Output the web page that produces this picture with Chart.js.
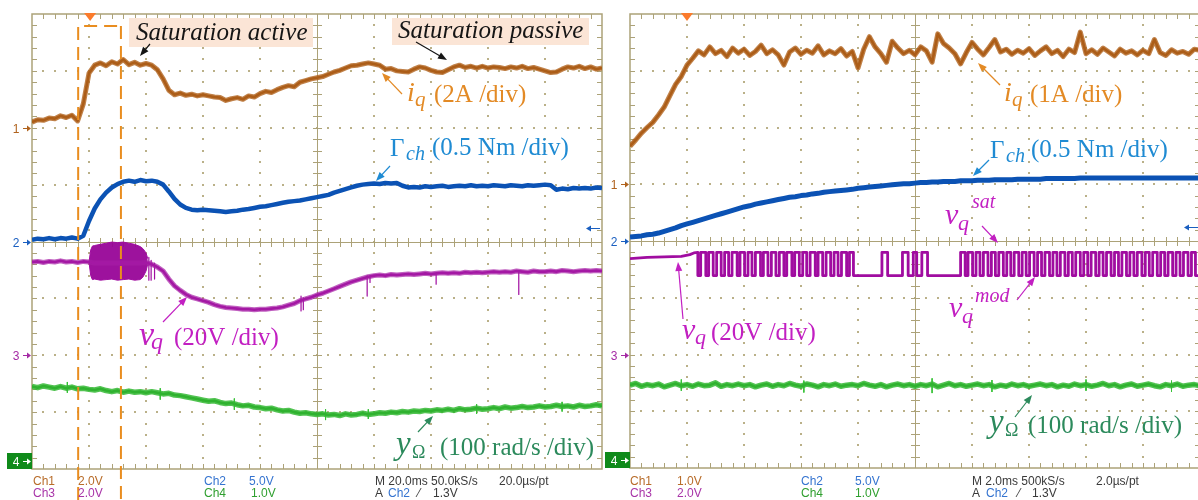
<!DOCTYPE html>
<html>
<head>
<meta charset="utf-8">
<title>Saturation active / passive</title>
<script src="https://cdn.jsdelivr.net/npm/chart.js@4.4.1/dist/chart.umd.min.js"></script>
<style>
  html, body { margin: 0; padding: 0; background: #fff; overflow: hidden; }
  #wrap { position: relative; width: 1198px; height: 500px; overflow: hidden; }
  canvas { position: absolute; top: 0; }
  #g_left { left: 0; }
  #g_right { left: 605px; }
</style>
</head>
<body>
<div id="wrap">
  <canvas id="g_left" width="605" height="500"></canvas>
  <canvas id="g_right" width="600" height="500"></canvas>
</div>
<script>
// sample positions, in screen divisions (10 x 8 graticule, y = 0 at centre)
var t_div = [
  0,0.1,0.2,0.3,0.4,0.5,0.6,0.7,0.8,0.9,
  1,1.1,1.2,1.3,1.4,1.5,1.6,1.7,1.8,1.9,
  2,2.1,2.2,2.3,2.4,2.5,2.6,2.7,2.8,2.9,
  3,3.1,3.2,3.3,3.4,3.5,3.6,3.7,3.8,3.9,
  4,4.1,4.2,4.3,4.4,4.5,4.6,4.7,4.8,4.9,
  5,5.1,5.2,5.3,5.4,5.5,5.6,5.7,5.8,5.9,
  6,6.1,6.2,6.3,6.4,6.5,6.6,6.7,6.8,6.9,
  7,7.1,7.2,7.3,7.4,7.5,7.6,7.7,7.8,7.9,
  8,8.1,8.2,8.3,8.4,8.5,8.6,8.7,8.8,8.9,
  9,9.1,9.2,9.3,9.4,9.5,9.6,9.7,9.8,9.9,
  10
];

// ---- left scope (20 ms/div) ----
var iq_left = [
  2.10,2.14,2.13,2.17,2.16,2.21,2.18,2.22,2.12,2.42,
  2.96,3.10,3.14,3.09,3.16,3.12,3.20,3.11,3.15,3.10,
  3.13,3.10,3.02,2.86,2.66,2.58,2.61,2.57,2.59,2.56,
  2.58,2.56,2.54,2.53,2.48,2.51,2.53,2.50,2.56,2.54,
  2.60,2.64,2.62,2.67,2.71,2.74,2.72,2.80,2.83,2.86,
  2.88,2.90,2.94,2.98,3.01,3.05,3.09,3.10,3.12,3.14,
  3.12,3.10,3.03,3.04,3.00,2.99,2.98,3.03,3.07,3.05,
  3.01,2.98,2.97,3.02,3.07,3.10,3.06,3.08,3.05,3.08,
  3.05,3.07,3.06,3.04,3.07,3.05,3.08,3.04,3.06,3.03,
  3.00,2.97,2.98,3.03,3.07,3.05,3.08,3.04,3.07,3.03,
  3.05
];
var torque_left = [
  0.03,0.05,0.04,0.06,0.04,0.06,0.05,0.07,0.05,0.10,
  0.36,0.58,0.74,0.86,0.95,1.01,1.05,1.07,1.05,1.08,
  1.06,1.07,1.05,1.00,0.88,0.75,0.65,0.59,0.56,0.55,
  0.56,0.55,0.54,0.53,0.52,0.53,0.54,0.56,0.57,0.59,
  0.61,0.62,0.64,0.66,0.68,0.70,0.71,0.72,0.74,0.76,
  0.78,0.80,0.82,0.86,0.89,0.92,0.95,0.98,1.00,1.01,
  1.02,1.01,1.03,1.02,1.03,0.98,0.95,0.96,0.95,0.97,
  0.96,0.97,0.98,0.96,0.97,0.98,0.97,0.99,0.97,0.98,
  0.97,0.99,0.98,0.97,0.99,0.98,0.97,0.99,0.98,0.99,
  1.00,0.99,0.91,0.93,0.92,0.94,0.93,0.94,0.93,0.95,
  0.94
];
var vq_left = [
  -0.36,-0.35,-0.37,-0.35,-0.36,-0.34,-0.36,-0.35,-0.37,-0.35,
  -0.36,-0.38,-0.38,-0.38,-0.38,-0.38,-0.38,-0.38,-0.38,-0.38,
  -0.37,-0.40,-0.45,-0.52,-0.66,-0.78,-0.86,-0.93,-0.98,-1.01,
  -1.04,-1.07,-1.11,-1.14,-1.16,-1.17,-1.18,-1.19,-1.19,-1.20,
  -1.19,-1.19,-1.18,-1.17,-1.15,-1.12,-1.09,-1.04,-1.01,-0.98,
  -0.94,-0.91,-0.87,-0.83,-0.79,-0.75,-0.71,-0.68,-0.65,-0.62,
  -0.60,-0.59,-0.60,-0.58,-0.59,-0.58,-0.57,-0.58,-0.57,-0.56,
  -0.57,-0.56,-0.55,-0.56,-0.55,-0.56,-0.54,-0.55,-0.54,-0.55,
  -0.54,-0.53,-0.54,-0.53,-0.54,-0.52,-0.53,-0.54,-0.52,-0.53,
  -0.53,-0.52,-0.53,-0.51,-0.52,-0.53,-0.52,-0.51,-0.52,-0.51,
  -0.52
];
// switching band while the saturation is active
var vq_band_t = [1.00,1.03,1.06,1.10,1.20,1.30,1.40,1.50,1.60,1.70,1.80,1.90,1.95,2.00,2.03];
var vq_band_top = [-0.36,-0.15,-0.08,-0.07,-0.05,-0.03,-0.01,-0.02,-0.01,-0.03,-0.05,-0.09,-0.13,-0.20,-0.30];
var vq_band_bottom = [-0.36,-0.60,-0.67,-0.66,-0.68,-0.67,-0.66,-0.68,-0.67,-0.66,-0.68,-0.67,-0.62,-0.52,-0.40];
var vq_left_spikes = [[2.05,-0.28,-0.68],[2.09,-0.33,-0.68],[2.15,-0.38,-0.66],[4.72,-0.96,-1.22],[4.76,-0.99,-1.20],
                      [5.88,-0.60,-0.96],[5.93,-0.61,-0.72],[7.09,-0.57,-0.75],[8.54,-0.52,-0.93]];
var speed_left = [
  -2.55,-2.57,-2.54,-2.56,-2.58,-2.55,-2.58,-2.56,-2.59,-2.58,
  -2.60,-2.61,-2.59,-2.62,-2.64,-2.62,-2.65,-2.63,-2.65,-2.64,
  -2.66,-2.64,-2.66,-2.68,-2.67,-2.70,-2.71,-2.73,-2.75,-2.77,
  -2.79,-2.81,-2.80,-2.83,-2.85,-2.84,-2.87,-2.89,-2.88,-2.91,
  -2.92,-2.94,-2.93,-2.96,-2.98,-2.97,-3.00,-3.02,-3.01,-3.03,
  -3.04,-3.03,-3.05,-3.04,-3.06,-3.03,-3.05,-3.04,-3.02,-3.04,
  -3.03,-3.01,-3.02,-3.00,-3.01,-2.99,-3.00,-2.98,-2.99,-2.97,
  -2.98,-2.96,-2.97,-2.95,-2.97,-2.94,-2.96,-2.95,-2.93,-2.95,
  -2.94,-2.92,-2.94,-2.91,-2.93,-2.92,-2.90,-2.92,-2.91,-2.89,
  -2.91,-2.90,-2.88,-2.90,-2.89,-2.91,-2.88,-2.90,-2.89,-2.87,
  -2.89
];
var speed_left_spikes = [[0.62,-2.47,-2.66],[2.25,-2.58,-2.78],[3.55,-2.76,-2.96],[5.15,-2.95,-3.14],[5.9,-2.95,-3.12],[7.8,-2.86,-3.03],[9.3,-2.82,-2.99]];

// ---- right scope (2 ms/div) ----
var iq_right = [
  1.67,1.78,1.90,2.00,2.09,2.22,2.36,2.56,2.76,2.90,
  3.10,3.22,3.35,3.28,3.42,3.30,3.36,3.25,3.40,3.31,
  3.38,3.27,3.34,3.45,3.30,3.37,3.28,3.10,3.33,3.40,
  3.29,3.36,3.31,3.44,3.28,3.35,3.30,3.39,3.26,3.34,
  3.05,3.38,3.60,3.42,3.30,3.15,3.52,3.40,3.30,3.36,
  3.28,3.42,3.35,3.15,3.65,3.48,3.40,3.30,3.12,3.32,
  3.50,3.38,3.28,3.41,3.55,3.33,3.38,3.29,3.36,3.31,
  3.39,3.27,3.35,3.42,3.30,3.36,3.25,3.38,3.32,3.68,
  3.30,3.37,3.29,3.40,3.33,3.26,3.38,3.31,3.35,3.28,
  3.36,3.30,3.55,3.32,3.27,3.37,3.31,3.34,3.29,3.38,
  3.36
];
var torque_right = [
  0.07,0.08,0.09,0.11,0.12,0.14,0.17,0.20,0.23,0.27,
  0.30,0.33,0.36,0.39,0.42,0.45,0.48,0.51,0.54,0.57,
  0.60,0.62,0.65,0.67,0.69,0.71,0.73,0.75,0.77,0.78,
  0.80,0.81,0.83,0.84,0.86,0.87,0.88,0.89,0.90,0.91,
  0.93,0.94,0.95,0.96,0.97,0.98,0.99,1.00,1.01,1.01,
  1.02,1.03,1.03,1.04,1.04,1.05,1.05,1.05,1.06,1.06,
  1.06,1.07,1.07,1.07,1.08,1.08,1.08,1.08,1.09,1.09,
  1.09,1.09,1.09,1.10,1.10,1.10,1.10,1.10,1.10,1.11,
  1.11,1.11,1.11,1.11,1.11,1.11,1.11,1.11,1.11,1.11,
  1.11,1.11,1.11,1.11,1.11,1.11,1.11,1.11,1.11,1.11,
  1.11
];
// vq before the modulation starts, then the vq_mod / vq_sat pulses
var vq_right_t = [0, 0.3, 0.6, 0.9, 1.05, 1.12, 1.19, 1.19];
var vq_right_v = [-0.31, -0.29, -0.28, -0.27, -0.24, -0.21, -0.20, -0.61];
var vq_levels = [-0.61, -0.20];   // low, high
var vq_pulses = [
  [1.24,1.33],[1.38,1.46],[1.52,1.60],[1.66,1.73],[1.79,1.88],[1.93,2.01],[2.07,2.14],[2.20,2.29],[2.34,2.42],[2.48,2.56],
  [2.62,2.70],[2.75,2.84],[2.89,2.97],[3.03,3.10],[3.16,3.25],[3.30,3.38],[3.44,3.52],[3.58,3.65],[3.71,3.80],[3.85,3.92],
  [4.42,4.52],[4.78,4.88],[4.97,5.03],[5.12,5.22],
  [5.80,5.88],[5.93,6.01],[6.07,6.14],[6.20,6.28],[6.34,6.41],[6.47,6.55],[6.61,6.68],[6.74,6.82],[6.88,6.95],[7.01,7.09],
  [7.15,7.22],[7.28,7.36],[7.42,7.49],[7.55,7.63],[7.69,7.76],[7.82,7.90],[7.96,8.03],[8.09,8.17],[8.23,8.30],[8.36,8.44],
  [8.50,8.57],[8.63,8.71],[8.77,8.84],[8.90,8.98],[9.04,9.11],[9.17,9.25],[9.31,9.38],[9.44,9.52],[9.58,9.65],[9.71,9.79],
  [9.85,9.92]
];
var speed_right = [
  -2.54,-2.51,-2.56,-2.53,-2.55,-2.52,-2.57,-2.54,-2.51,-2.55,
  -2.53,-2.56,-2.52,-2.55,-2.54,-2.50,-2.56,-2.53,-2.55,-2.52,
  -2.55,-2.53,-2.57,-2.54,-2.52,-2.56,-2.53,-2.55,-2.51,-2.54,
  -2.56,-2.52,-2.54,-2.57,-2.53,-2.55,-2.52,-2.56,-2.54,-2.53,
  -2.55,-2.51,-2.54,-2.56,-2.53,-2.57,-2.54,-2.52,-2.55,-2.53,
  -2.56,-2.53,-2.55,-2.52,-2.57,-2.54,-2.51,-2.55,-2.53,-2.56,
  -2.54,-2.52,-2.55,-2.53,-2.57,-2.54,-2.56,-2.52,-2.55,-2.53,
  -2.56,-2.54,-2.52,-2.55,-2.53,-2.57,-2.54,-2.56,-2.52,-2.55,
  -2.53,-2.56,-2.54,-2.51,-2.55,-2.53,-2.57,-2.54,-2.52,-2.56,
  -2.54,-2.52,-2.55,-2.57,-2.53,-2.55,-2.52,-2.56,-2.54,-2.53,
  -2.55
];
var speed_right_spikes = [[0.9,-2.44,-2.64],[3.05,-2.46,-2.67],[5.3,-2.42,-2.68],[6.35,-2.45,-2.66],[8.0,-2.44,-2.64],[9.5,-2.46,-2.66]];

var C_BROWN = '#9a4e0a', C_BLUE = '#0b52b4', C_PURPLE = '#a00ca0', C_GREEN = '#178c17';
var H_BROWN = 'rgba(176,98,28,0.8)', H_PURPLE = 'rgba(165,30,165,0.7)', H_GREEN = 'rgba(52,184,52,0.85)';
var GRID = 'rgb(172,162,120)', GRID_DOT = 'rgb(186,176,136)';
var SERIF = '"Liberation Serif", "DejaVu Serif", serif';
var SANS = '12px "Liberation Sans", "DejaVu Sans", sans-serif';

function pts(t, v) {
    var out = [];
    for (let i = 0; i < v.length; i++) {
        out.push({x: t[i], y: v[i]});
    }
    return out;
}

function spikes(list) {
    var out = [];
    list.forEach(function (s) {
        out.push({x: s[0], y: s[1]}, {x: s[0], y: s[2]}, {x: s[0], y: null});
    });
    return out;
}

function pulses(t, v, list, lv) {
    var out = pts(t, v);
    list.forEach(function (p) {
        out.push({x: p[0], y: lv[0]}, {x: p[0], y: lv[1]}, {x: p[1], y: lv[1]}, {x: p[1], y: lv[0]});
    });
    out.push({x: 10, y: lv[0]});
    return out;
}

function trace(data, color, width, extra) {
    var ds = {
        "data": data, "borderColor": color, "backgroundColor": color, "borderWidth": width,
        "pointRadius": 0, "fill": false, "borderJoinStyle": 'round', "spanGaps": false
    };
    return Object.assign(ds, extra || {});
}

function arrow(ctx, a, ox) {
    var x1 = a[0] - ox, y1 = a[1], x2 = a[2] - ox, y2 = a[3];
    var ang = Math.atan2(y2 - y1, x2 - x1);
    ctx.strokeStyle = a[4];
    ctx.fillStyle = a[4];
    ctx.lineWidth = 1.2;
    ctx.beginPath();
    ctx.moveTo(x1, y1);
    ctx.lineTo(x2 - 6 * Math.cos(ang), y2 - 6 * Math.sin(ang));
    ctx.stroke();
    ctx.beginPath();
    ctx.moveTo(x2, y2);
    ctx.lineTo(x2 - 9 * Math.cos(ang) + 3.5 * Math.sin(ang), y2 - 9 * Math.sin(ang) - 3.5 * Math.cos(ang));
    ctx.lineTo(x2 - 9 * Math.cos(ang) - 3.5 * Math.sin(ang), y2 - 9 * Math.sin(ang) + 3.5 * Math.cos(ang));
    ctx.closePath();
    ctx.fill();
}

function scopeDeco(d) {
    return {
        id: 'scope',
        beforeDatasetsDraw: function (chart) {
            var ctx = chart.ctx, sx = chart.scales.x, sy = chart.scales.y, a = chart.chartArea;
            var X = function (v) { return Math.round(sx.getPixelForValue(v)); };
            var Y = function (v) { return Math.round(sy.getPixelForValue(v)); };
            ctx.save();
            ctx.fillStyle = GRID_DOT;
            for (let i = 1; i < 10; i++) {
                if (i === 5) continue;
                for (let j = 1; j < 40; j++) ctx.fillRect(X(i) - 1, Y(-4 + j / 5) - 1, 2, 2);
            }
            for (let i = 1; i < 8; i++) {
                if (i === 4) continue;
                for (let j = 1; j < 50; j++) ctx.fillRect(X(j / 5) - 1, Y(-4 + i) - 1, 2, 2);
            }
            ctx.strokeStyle = GRID;
            ctx.lineWidth = 1;
            ctx.beginPath();
            ctx.moveTo(X(5) + 0.5, a.top);
            ctx.lineTo(X(5) + 0.5, a.bottom);
            ctx.moveTo(a.left, Y(0) + 0.5);
            ctx.lineTo(a.right, Y(0) + 0.5);
            for (let j = 1; j < 50; j++) {
                var px = X(j / 5) + 0.5;
                ctx.moveTo(px, Y(0) - 4); ctx.lineTo(px, Y(0) + 5);
                ctx.moveTo(px, a.top); ctx.lineTo(px, a.top + 5);
                ctx.moveTo(px, a.bottom); ctx.lineTo(px, a.bottom - 5);
            }
            for (let j = 1; j < 40; j++) {
                var py = Y(-4 + j / 5) + 0.5;
                ctx.moveTo(X(5) - 4, py); ctx.lineTo(X(5) + 5, py);
                ctx.moveTo(a.left, py); ctx.lineTo(a.left + 5, py);
                ctx.moveTo(a.right, py); ctx.lineTo(a.right - 5, py);
            }
            ctx.stroke();
            ctx.lineWidth = 1.5;
            ctx.strokeRect(X(0), Y(4), X(10) - X(0), Y(-4) - Y(4));
            ctx.restore();
        },
        afterDraw: function (chart) {
            var ctx = chart.ctx, sx = chart.scales.x, sy = chart.scales.y, a = chart.chartArea, ox = d.ox;
            ctx.save();

            // trigger point
            var tx = sx.getPixelForValue(d.trigger);
            ctx.fillStyle = '#fb7b2c';
            ctx.beginPath();
            ctx.moveTo(tx - 6, a.top - 1); ctx.lineTo(tx + 6, a.top - 1); ctx.lineTo(tx, a.top + 7);
            ctx.closePath();
            ctx.fill();

            // channel ground markers
            ctx.font = SANS;
            ctx.textAlign = 'center';
            ctx.textBaseline = 'middle';
            d.markers.forEach(function (m) {
                var py = Math.round(sy.getPixelForValue(m[1])) + 0.5;
                var col = m[2];
                if (m[0] === '4') {
                    ctx.fillStyle = '#0f8a1a';
                    ctx.fillRect(a.left - 25, a.bottom - 16, 25, 16);
                    col = '#ffffff';
                    py = a.bottom - 7.5;
                }
                ctx.fillStyle = col;
                ctx.strokeStyle = col;
                ctx.fillText(m[0], a.left - 16, py + 1);
                ctx.lineWidth = 1;
                ctx.beginPath();
                ctx.moveTo(a.left - 9, py); ctx.lineTo(a.left - 4, py);
                ctx.stroke();
                ctx.beginPath();
                ctx.moveTo(a.left - 1, py); ctx.lineTo(a.left - 5, py - 3); ctx.lineTo(a.left - 5, py + 3);
                ctx.closePath();
                ctx.fill();
            });

            // off-screen indicator of channel 2
            var ay = Math.round(sy.getPixelForValue(d.offArrow)) + 0.5;
            ctx.strokeStyle = '#1a5fc0';
            ctx.fillStyle = '#1a5fc0';
            ctx.beginPath();
            ctx.moveTo(a.right - 2, ay); ctx.lineTo(a.right - 12, ay);
            ctx.stroke();
            ctx.beginPath();
            ctx.moveTo(a.right - 16, ay); ctx.lineTo(a.right - 11, ay - 3); ctx.lineTo(a.right - 11, ay + 3);
            ctx.closePath();
            ctx.fill();

            // time window of the zoom
            if (d.window) {
                var wx1 = sx.getPixelForValue(d.window[0]), wx2 = sx.getPixelForValue(d.window[1]);
                var wy = sy.getPixelForValue(d.window[2]);
                ctx.strokeStyle = '#e98d1f';
                ctx.lineWidth = 2;
                ctx.setLineDash([13, 7]);
                ctx.beginPath();
                ctx.moveTo(wx1, chart.height); ctx.lineTo(wx1, wy); ctx.lineTo(wx2, wy);
                ctx.moveTo(wx2, wy); ctx.lineTo(wx2, chart.height);
                ctx.stroke();
                ctx.setLineDash([]);
            }

            ctx.fillStyle = '#fbe5d6';
            d.boxes.forEach(function (b) {
                ctx.fillRect(b[0] - ox, b[1], b[2], b[3]);
            });

            ctx.textAlign = 'left';
            ctx.textBaseline = 'alphabetic';
            d.texts.forEach(function (t) {
                ctx.font = t[3] + ' ' + SERIF;
                ctx.fillStyle = t[4];
                ctx.fillText(t[2], t[0] - ox, t[1]);
            });
            d.arrows.forEach(function (ar) { arrow(ctx, ar, ox); });

            // scope status lines
            ctx.font = SANS;
            ctx.textBaseline = 'middle';
            d.status.forEach(function (s) {
                ctx.fillStyle = s[3];
                ctx.fillText(s[2], s[0] - ox, s[1]);
            });
            ctx.restore();
        }
    };
}

function scope(id, datasets, pad, deco) {
    return new Chart(document.getElementById(id), {
        "type": 'line',
        "data": {"datasets": datasets},
        "options": {
            "responsive": false,
            "animation": false,
            "devicePixelRatio": 1,
            "layout": {"padding": pad},
            "plugins": {"legend": {"display": false}, "tooltip": {"enabled": false}},
            "scales": {
                "x": {"type": 'linear', "min": 0, "max": 10, "display": false},
                "y": {"type": 'linear', "min": -4, "max": 4, "display": false}
            }
        },
        "plugins": [scopeDeco(deco)]
    });
}

var ORANGE = '#e38a25', LBLUE = '#1f8bd3', MAGENTA = '#c21fc2', DGREEN = '#2c8a5c', INK = '#151515';
var C1 = '#b86c2a', C2 = '#3574d0', C3 = '#a834a8', C4 = '#2f9f2f', CM = '#3a3a3a';

scope('g_left', [
    trace(pts(t_div, iq_left), H_BROWN, 5),
    trace(pts(t_div, iq_left), C_BROWN, 2.6),
    trace(pts(t_div, torque_left), C_BLUE, 4.5),
    trace(pts(t_div, vq_left), H_PURPLE, 5),
    trace(pts(t_div, vq_left), C_PURPLE, 2.6),
    trace(pts(vq_band_t, vq_band_top), C_PURPLE, 1),
    trace(pts(vq_band_t, vq_band_bottom), C_PURPLE, 1, {"fill": '-1', "backgroundColor": 'rgba(150,0,150,0.93)'}),
    trace(spikes(vq_left_spikes), C_PURPLE, 1.2),
    trace(pts(t_div, speed_left), H_GREEN, 5.5),
    trace(pts(t_div, speed_left), C_GREEN, 2.6),
    trace(spikes(speed_left_spikes), '#36c236', 1)
], {"left": 32, "right": 3, "top": 14, "bottom": 31}, {
    ox: 0, trigger: 1.02, offArrow: 0.23, window: [0.81, 1.56, 3.79],
    markers: [['1', 2, '#b0631e'], ['2', 0, '#1a5fc0'], ['3', -2, '#a42aa4'], ['4', -4, '']],
    boxes: [[129, 18, 184, 29], [392, 18, 197, 27]],
    texts: [
        [136, 40, 'Saturation active', 'italic 25px', INK],
        [398, 38, 'Saturation passive', 'italic 25px', INK],
        [407, 101, 'i', 'italic 28px', ORANGE], [415, 106, 'q', 'italic 21px', ORANGE], [434, 102, '(2A /div)', '25px', ORANGE],
        [390, 156, '\u0393', '25px', LBLUE], [406, 160, 'ch', 'italic 20px', LBLUE], [432, 155, '(0.5 Nm /div)', '25px', LBLUE],
        [139, 345, 'v', 'italic 34px', MAGENTA], [151, 349, 'q', 'italic 24px', MAGENTA], [174, 345, '(20V /div)', '25px', MAGENTA],
        [396, 454, 'y', 'italic 33px', DGREEN], [412, 458, '\u03a9', '18px', DGREEN], [440, 455, '(100 rad/s /div)', '25px', DGREEN]
    ],
    arrows: [
        [150, 44, 140, 56, INK], [416, 42, 447, 60, INK],
        [402, 94, 382, 73, ORANGE], [390, 166, 376, 181, LBLUE],
        [163, 322, 187, 297, MAGENTA], [418, 432, 433, 416, DGREEN]
    ],
    status: [
        [33, 482, 'Ch1', C1], [78, 482, '2.0V', C1], [33, 494, 'Ch3', C3], [78, 494, '2.0V', C3],
        [204, 482, 'Ch2', C2], [249, 482, '5.0V', C2], [204, 494, 'Ch4', C4], [251, 494, '1.0V', C4],
        [375, 482, 'M 20.0ms 50.0kS/s', CM], [499, 482, '20.0\u00b5s/pt', CM],
        [375, 494, 'A', CM], [388, 494, 'Ch2', C2], [418, 494, '\u2044', CM], [433, 494, '1.3V', CM]
    ]
});

scope('g_right', [
    trace(pts(t_div, iq_right), H_BROWN, 5),
    trace(pts(t_div, iq_right), C_BROWN, 2.6),
    trace(pts(t_div, torque_right), C_BLUE, 5),
    trace(pulses(vq_right_t, vq_right_v, vq_pulses, vq_levels), C_PURPLE, 2.8),
    trace(pts(t_div, speed_right), H_GREEN, 5.5),
    trace(pts(t_div, speed_right), C_GREEN, 2.6),
    trace(spikes(speed_right_spikes), '#36c236', 1)
], {"left": 25, "right": 5, "top": 14, "bottom": 32}, {
    ox: 605, trigger: 1.0, offArrow: 0.25, window: null,
    markers: [['1', 1, '#b0631e'], ['2', 0, '#1a5fc0'], ['3', -2, '#a42aa4'], ['4', -4, '']],
    boxes: [],
    texts: [
        [1004, 101, 'i', 'italic 28px', ORANGE], [1012, 106, 'q', 'italic 21px', ORANGE], [1030, 102, '(1A /div)', '25px', ORANGE],
        [990, 158, '\u0393', '25px', LBLUE], [1006, 162, 'ch', 'italic 20px', LBLUE], [1031, 157, '(0.5 Nm /div)', '25px', LBLUE],
        [945, 224, 'v', 'italic 30px', MAGENTA], [958, 230, 'q', 'italic 22px', MAGENTA], [972, 208, 'sat', 'italic 20px', MAGENTA],
        [682, 339, 'v', 'italic 30px', MAGENTA], [695, 344, 'q', 'italic 22px', MAGENTA], [711, 340, '(20V /div)', '25px', MAGENTA],
        [949, 317, 'v', 'italic 30px', MAGENTA], [962, 323, 'q', 'italic 22px', MAGENTA], [975, 302, 'mod', 'italic 20px', MAGENTA],
        [989, 432, 'y', 'italic 33px', DGREEN], [1005, 436, '\u03a9', '18px', DGREEN], [1028, 433, '(100 rad/s /div)', '25px', DGREEN]
    ],
    arrows: [
        [1000, 85, 978, 63, ORANGE], [989, 160, 973, 176, LBLUE],
        [982, 226, 998, 243, MAGENTA], [683, 319, 678, 262, MAGENTA],
        [1017, 300, 1035, 277, MAGENTA], [1015, 417, 1032, 395, DGREEN]
    ],
    status: [
        [630, 482, 'Ch1', C1], [677, 482, '1.0V', C1], [630, 494, 'Ch3', C3], [677, 494, '2.0V', C3],
        [801, 482, 'Ch2', C2], [855, 482, '5.0V', C2], [801, 494, 'Ch4', C4], [855, 494, '1.0V', C4],
        [972, 482, 'M 2.0ms 500kS/s', CM], [1096, 482, '2.0\u00b5s/pt', CM],
        [972, 494, 'A', CM], [986, 494, 'Ch2', C2], [1018, 494, '\u2044', CM], [1032, 494, '1.3V', CM]
    ]
});
</script>
</body>
</html>
